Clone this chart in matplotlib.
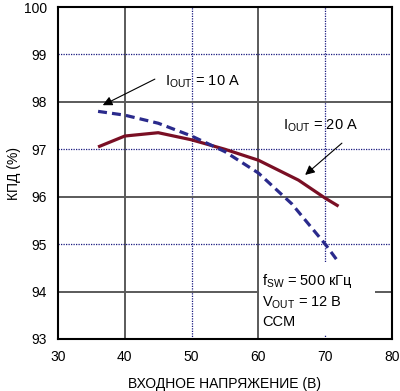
import matplotlib
matplotlib.use("Agg")
import matplotlib.pyplot as plt
from matplotlib.patches import Rectangle

plt.rcParams['font.family'] = ['Liberation Sans', 'DejaVu Sans']
plt.rcParams['mathtext.fontset'] = 'custom'
plt.rcParams['mathtext.rm'] = 'Liberation Sans'
plt.rcParams['font.size'] = 10

# efficiency vs input voltage
vin_10a = [36, 40, 45, 50, 55, 60, 65, 70, 72]
eff_10a = [97.8, 97.72, 97.55, 97.28, 96.95, 96.5, 95.85, 95.0, 94.62]

vin_20a = [36, 40, 45, 50, 55, 60, 66, 70, 72]
eff_20a = [97.05, 97.28, 97.35, 97.2, 97.0, 96.77, 96.35, 95.97, 95.8]

x_ticks = [30, 40, 50, 60, 70, 80]
y_ticks = [93, 94, 95, 96, 97, 98, 99, 100]

fig = plt.figure(figsize=(4.0, 3.91), dpi=100)
ax = fig.add_axes([0.145, 0.133, 0.835, 0.849])
ax.set_xlim(30, 80)
ax.set_ylim(93, 100)

# alternating grid: gray solid / blue dotted
for x in x_ticks[1:-1]:
    if x % 20 == 0:
        ax.axvline(x, color='#5a5a5a', lw=1.4, zorder=1)
    else:
        ax.axvline(x, color='#1a1a80', lw=0.9, ls=(0, (1, 1)), zorder=1)
for y in y_ticks[1:-1]:
    if y % 2 == 0:
        ax.axhline(y, color='#5a5a5a', lw=1.4, zorder=1)
    else:
        ax.axhline(y, color='#1a1a80', lw=0.9, ls=(0, (1, 1)), zorder=1)

# white box behind the conditions text
ax.add_patch(Rectangle((60.15, 93.08), 17.3, 1.55, facecolor='white',
                       edgecolor='none', zorder=2))

ax.plot(vin_20a, eff_20a, color='#7a0f24', lw=2.3, zorder=3,
        solid_capstyle='butt')
ax.plot(vin_10a, eff_10a, color='#2a2a8c', lw=2.3, zorder=3,
        dashes=(2.8, 1.6))

ax.set_xticks(x_ticks)
ax.set_yticks(y_ticks)
ax.tick_params(length=0, pad=8, labelsize=10)
for s in ax.spines.values():
    s.set_linewidth(1.5)
    s.set_zorder(4)

ax.set_xlabel('ВХОДНОЕ НАПРЯЖЕНИЕ (В)', fontsize=10, labelpad=9)
ax.set_ylabel('КПД (%)', fontsize=10, labelpad=2)

arrow = dict(arrowstyle='-|>', color='black', lw=0.8, mutation_scale=14,
             shrinkA=0, shrinkB=0)
ax.annotate('', xy=(36.7, 97.93), xytext=(44.5, 98.48), arrowprops=arrow, zorder=5)
ax.annotate('', xy=(67.0, 96.46), xytext=(72.5, 97.13), arrowprops=arrow, zorder=5)
ax.text(46.0, 98.36, r'I$_\mathregular{OUT}$ = 10 A', fontsize=10.5,
        va='baseline', zorder=5)
ax.text(63.7, 97.43, r'I$_\mathregular{OUT}$ = 20 A', fontsize=10.5,
        va='baseline', zorder=5)

ax.text(60.6, 94.14, r'f$_\mathregular{SW}$ = 500 кГц', fontsize=10.5,
        va='baseline', zorder=5)
ax.text(60.6, 93.70, r'V$_\mathregular{OUT}$ = 12 В', fontsize=10.5,
        va='baseline', zorder=5)
ax.text(60.6, 93.27, 'CCM', fontsize=10.5, va='baseline', zorder=5)

fig.savefig('out.png', dpi=100)
